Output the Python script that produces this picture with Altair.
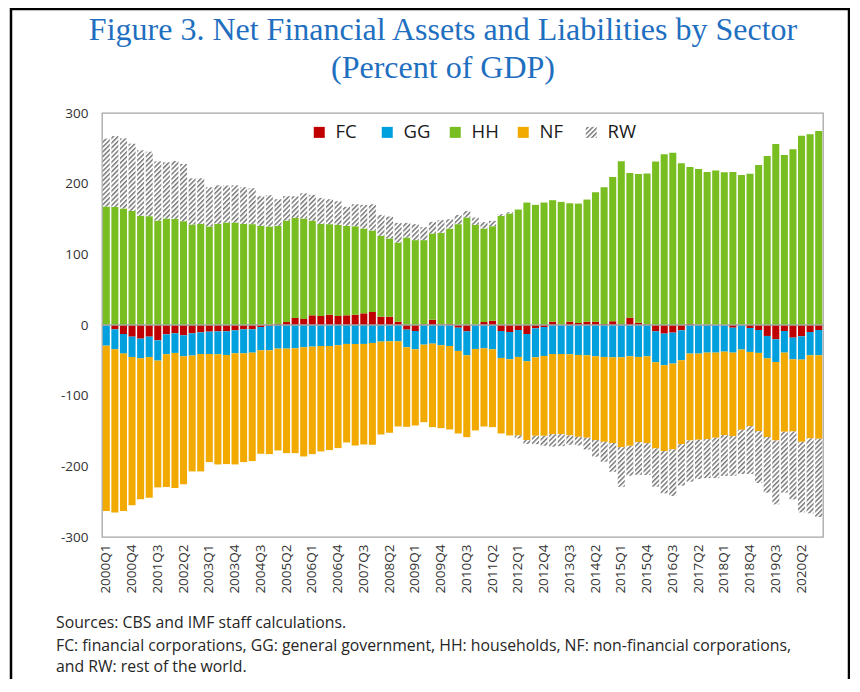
import pandas as pd
import altair as alt

# ---------------- data (percent of GDP) ----------------
QUARTERS = [f"{y}Q{q}" for y in range(2000, 2021) for q in range(1, 5)]
SECTORS = ["FC", "GG", "HH", "NF", "RW"]

FC = [-0.5, -6.1, -12.7, -16.5, -19.3, -16.5, -21.7, -13.2, -11.8, -14.6,
      -11.8, -10.4, -9.4, -8.9, -8.9, -7.5, -6.1, -6.1, -2.8, -1.4,
      1.5, 4.2, 9.9, 8.5, 13.7, 12.7, 14.6, 12.7, 13.7, 14.6,
      16.5, 18.4, 11.8, 11.8, 4.7, -6.6, -8.5, 1.0, 7.5, 1.0,
      1.5, -3.8, -8.9, 0.5, 4.2, 6.1, -8.5, -9.9, -7.1, -12.7,
      -4.7, -2.8, 4.7, 0.5, 4.7, 2.8, 4.7, 4.7, 1.4, 5.2,
      1.0, 10.4, 3.3, 1.0, -8.9, -12.2, -10.8, -7.5, 1.4, 0.5,
      0.5, 0.5, 0.5, -3.8, 0.5, -4.2, -7.1, -15.5, -20.2, -8.5,
      -17.9, -16.0, -9.9, -7.1]

GG = [-28.7, -28.3, -27.8, -28.7, -27.8, -28.7, -28.7, -28.2, -27.7, -29.7,
      -31.5, -30.6, -31.6, -32.5, -33.5, -32.5, -33.9, -33.0, -33.0, -34.4,
      -33.4, -33.4, -33.0, -31.5, -30.6, -29.7, -29.7, -28.7, -26.8, -26.8,
      -26.8, -25.4, -23.5, -23.1, -23.1, -24.9, -25.9, -27.8, -26.4, -28.7,
      -29.7, -32.9, -33.9, -33.9, -33.0, -34.4, -38.1, -38.6, -38.1, -38.6,
      -41.0, -41.0, -41.0, -41.0, -41.4, -42.4, -42.8, -44.3, -45.2, -45.7,
      -45.7, -44.3, -45.2, -44.3, -43.8, -44.8, -43.8, -42.4, -40.5, -40.5,
      -39.1, -39.1, -37.7, -35.3, -34.8, -33.9, -32.4, -31.6, -32.1, -30.6,
      -30.6, -33.0, -32.9, -35.7]

HH = [167.6, 167.1, 164.8, 161.5, 154.4, 154.0, 147.8, 150.7, 150.2, 146.9,
      142.2, 143.1, 139.4, 143.1, 145.0, 145.0, 143.1, 142.7, 140.3, 139.4,
      138.8, 143.6, 141.7, 142.2, 134.1, 130.4, 128.1, 129.0, 126.6, 125.2,
      120.0, 115.3, 114.4, 110.6, 112.1, 123.8, 120.1, 119.1, 122.0, 129.4,
      135.0, 142.7, 152.1, 141.2, 132.3, 133.7, 154.4, 157.8, 163.4, 173.3,
      170.0, 173.3, 171.9, 173.7, 167.6, 169.0, 172.8, 183.2, 193.5, 204.3,
      230.6, 204.8, 210.5, 213.3, 231.2, 241.5, 243.9, 228.8, 222.2, 220.3,
      216.1, 218.0, 215.6, 216.6, 211.8, 214.2, 226.5, 239.2, 256.1, 240.6,
      248.6, 267.9, 269.8, 274.5]

NF = [-234.0, -231.1, -222.7, -210.0, -199.6, -199.2, -179.4, -187.9, -191.2, -181.2,
      -163.9, -166.2, -153.0, -155.9, -154.4, -157.3, -154.0, -153.5, -146.4, -146.9,
      -144.1, -147.9, -148.3, -154.5, -152.1, -149.2, -147.3, -145.5, -139.4, -143.6,
      -142.2, -144.1, -131.4, -129.4, -120.5, -112.6, -107.8, -109.7, -118.1, -117.3,
      -118.1, -116.8, -115.9, -115.3, -110.6, -110.1, -106.9, -107.8, -111.1, -111.6,
      -111.1, -113.0, -113.4, -113.4, -114.9, -115.8, -116.8, -118.6, -120.1, -121.4,
      -127.1, -126.6, -120.5, -122.8, -122.0, -121.4, -121.5, -118.6, -122.9, -121.9,
      -122.4, -120.5, -118.1, -118.2, -113.5, -105.0, -110.7, -111.6, -111.1, -112.0,
      -102.2, -116.3, -117.7, -118.2]

RW = [96.1, 100.3, 99.3, 95.1, 92.8, 91.3, 83.8, 79.5, 81.9, 81.0,
      65.4, 64.5, 55.5, 54.6, 52.3, 52.7, 51.8, 50.8, 41.9, 44.2,
      37.7, 34.4, 30.6, 35.7, 36.3, 36.7, 35.3, 33.4, 26.8, 31.1,
      33.5, 37.2, 29.6, 31.1, 27.7, 20.7, 22.6, 18.3, 16.5, 17.9,
      13.2, 13.1, 9.4, 10.4, 9.0, 7.6, 2.4, 1.8, -4.2, -5.6,
      -11.7, -14.1, -17.9, -17.0, -13.2, -12.2, -16.5, -23.5, -28.2, -40.5,
      -56.0, -42.4, -46.2, -45.2, -54.1, -59.8, -65.9, -58.9, -58.4, -55.6,
      -55.1, -57.0, -57.9, -56.0, -62.6, -67.8, -73.4, -78.6, -90.4, -86.2,
      -96.0, -99.8, -106.0, -110.7]

TICK_LABELS = QUARTERS[::3]
Y_TICKS = [-300, -200, -100, 0, 100, 200, 300]
TITLE_LINES = ["Figure 3. Net Financial Assets and Liabilities by Sector",
               "(Percent of GDP)"]
NOTE_LINES = ["Sources: CBS and IMF staff calculations.",
              "FC: financial corporations, GG: general government, HH: households, NF: non-financial corporations,",
              "and RW: rest of the world."]

# ---------------- styling ----------------
W, H = 721, 424
FONT = "Open Sans"
SOLID = ["#c00000", "#00a0df", "#78be20", "#f2a900"]
HATCH_URL = "url(#rwhatch)"
HATCH_DEFS = (
    '<svg width="0" height="0" style="position:absolute;width:0;height:0">'
    '<defs><pattern id="rwhatch" patternUnits="userSpaceOnUse" width="3.4" height="3.4" '
    'patternTransform="rotate(45)">'
    '<rect x="0" y="0" width="3.4" height="3.4" fill="#ffffff"/>'
    '<rect x="0" y="0" width="1.5" height="3.4" fill="#7a7a7a"/>'
    '</pattern></defs></svg>'
)

rows = []
for i, q in enumerate(QUARTERS):
    for k, (s, arr) in enumerate(zip(SECTORS, [FC, GG, HH, NF, RW])):
        rows.append({"quarter": q, "sector": s, "value": arr[i], "ord": k})
df = pd.DataFrame(rows)

Y_AXIS = alt.Axis(values=Y_TICKS, title=None, ticks=False, tickSize=0,
                  domain=False, grid=False, labelPadding=14,
                  labelExpr="'' + datum.value",
                  labelFont=FONT, labelFontSize=13.5, labelColor="#333333")


def text_layer(txt, x, y, **style):
    return alt.Chart(pd.DataFrame({"t": [txt]})).mark_text(**style).encode(
        text="t:N", x=alt.value(x), y=alt.value(y))


def build(rw_fill):
    bars = alt.Chart(df).mark_bar().encode(
        x=alt.X("quarter:O", sort=QUARTERS,
                scale=alt.Scale(paddingInner=0.18, paddingOuter=0.09),
                axis=alt.Axis(values=TICK_LABELS, labelAngle=270, title=None,
                              ticks=False, tickSize=0, domain=False, labelPadding=7,
                              labelFont=FONT, labelFontSize=13.5, labelColor="#333333")),
        y=alt.Y("value:Q", stack="zero",
                scale=alt.Scale(domain=[-300, 300], nice=False, zero=False),
                axis=Y_AXIS),
        color=alt.Color("sector:N",
                        scale=alt.Scale(domain=SECTORS, range=SOLID + [rw_fill]),
                        legend=alt.Legend(orient="none", legendX=208, legendY=10,
                                          direction="horizontal", title=None,
                                          symbolType="square", symbolSize=121,
                                          symbolStrokeWidth=0, labelFont=FONT,
                                          labelFontSize=18.5, labelColor="#1a1a1a",
                                          labelOffset=7, columnPadding=14,
                                          gridAlign="all", padding=0)),
        order=alt.Order("ord:Q", sort="ascending"),
    )

    zero = alt.Chart(pd.DataFrame({"value": [0]})).mark_rule(
        color="#a6a6a6", strokeWidth=1.6).encode(y=alt.Y("value:Q", axis=Y_AXIS))

    frame = alt.Chart(pd.DataFrame({"f": [1]})).mark_rect(
        fillOpacity=0, stroke="#000000", strokeWidth=2.5).encode(
        x=alt.value(-91), x2=alt.value(747), y=alt.value(-104), y2=alt.value(700))

    title1 = text_layer(TITLE_LINES[0], 341, -73, font="Liberation Serif", fontSize=32,
                        color="#1f6fc0", align="center", baseline="alphabetic")
    title2 = text_layer(TITLE_LINES[1], 341, -35, font="Liberation Serif", fontSize=32,
                        color="#1f6fc0", align="center", baseline="alphabetic")
    notes = [text_layer(t, -46, yy, font=FONT, fontSize=15.8, color="#262626",
                        align="left", baseline="middle")
             for t, yy in zip(NOTE_LINES, [510, 533, 554])]

    chart = alt.layer(frame, bars, zero, title1, title2, *notes).properties(
        width=W, height=H,
        autosize=alt.AutoSizeParams(type="none"),
        padding={"left": 94, "top": 105, "right": 27, "bottom": 142},
        background="#ffffff",
    ).configure_view(stroke="#a6a6a6", strokeWidth=1.3)
    return chart


def make_template():
    import jinja2
    from altair.utils import html as _html
    base = None
    if hasattr(_html, "TEMPLATES"):
        base = _html.TEMPLATES.get("standard")
    if base is None:
        base = _html.HTML_TEMPLATE
    tpl = jinja2.Template("{{ spec }}")

    def _render(*args, **kwargs):
        page = base.render(*args, **kwargs)
        if "<body>" in page:
            return page.replace("<body>", "<body>\n" + HATCH_DEFS, 1)
        return page.replace("<div id=", HATCH_DEFS + "<div id=", 1)

    tpl.render = _render
    return tpl


try:
    tpl = make_template()
    chart = build(HATCH_URL)
    chart.save("out.html", embed_options={"renderer": "svg", "actions": False}, template=tpl)
except Exception:
    chart = build("#b3b3b3")
    chart.save("out.html", embed_options={"renderer": "svg", "actions": False})
